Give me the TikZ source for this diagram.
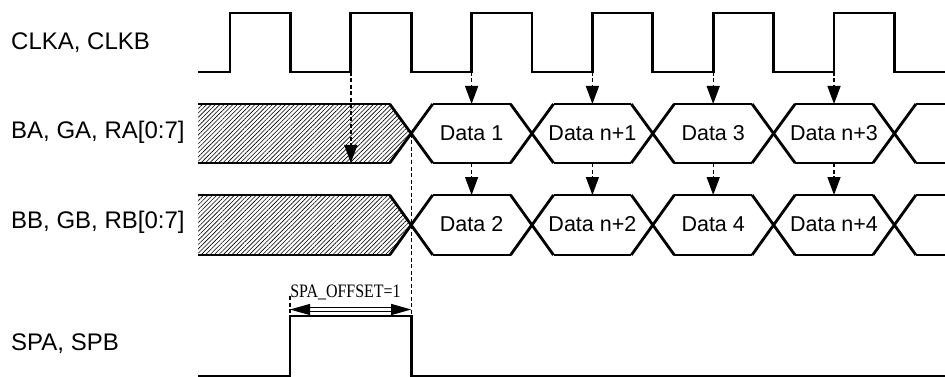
\documentclass[tikz,border=0pt]{standalone}
\usepackage{fontspec}
\setmainfont{Liberation Sans}
\newfontfamily\offsetfont{Liberation Serif}
\usetikzlibrary{arrows.meta,patterns.meta,calc}

\tikzset{
  wave/.style={line width=2.8pt},
  sig label/.style={anchor=west, inner sep=0pt, font=\fontsize{24}{28}\selectfont},
  data label/.style={inner sep=0pt, font=\fontsize{21.5}{25}\selectfont},
  latch/.style={dash pattern=on 4pt off 2.5pt, line width=1.4pt, -{Triangle[length=18pt,width=13pt]}},
  guide/.style={dash pattern=on 4pt off 2.5pt, line width=1.4pt},
  hatch/.style={pattern={Lines[angle=45, distance=3.1pt, line width=0.6pt]}},
}

\begin{document}
\begin{tikzpicture}[x=1pt, y=-1pt]
    \useasboundingbox (0,0) rectangle (945,377);

    % signal names
    \node[sig label] (clkname) at (11,43) {CLKA, CLKB};
    \node[sig label] (busaname) at (11,132) {BA, GA, RA[0:7]};
    \node[sig label] (busbname) at (11,222) {BB, GB, RB[0:7]};
    \node[sig label] (spname) at (11,344) {SPA, SPB};

    % clock
    \draw[wave] (198,72) \foreach \k in {0,...,5} {
        -- ({230+\k*120.8},72) -- ({230+\k*120.8},13)
        -- ({290.4+\k*120.8},13) -- ({290.4+\k*120.8},72) } -- (945,72);

    % data buses
    \foreach \tp/\bt in {104/163, 195/255} {
      \fill[hatch] (198,\tp) -- (390,\tp) -- (411.2,{(\tp+\bt)/2}) -- (390,\bt) -- (198,\bt) -- cycle;
      \draw[wave] (198,\tp) -- (390,\tp) (198,\bt) -- (390,\bt);
      \foreach \xc in {411.2, 532, 652.8, 773.6, 894.4} {
        \draw[wave] ({\xc-21.5},\tp) -- ({\xc+21.5},\bt) ({\xc-21.5},\bt) -- ({\xc+21.5},\tp);
      }
      \foreach \xc in {411.2, 532, 652.8, 773.6} {
        \draw[wave] ({\xc+21.5},\tp) -- ({\xc+99.3},\tp) ({\xc+21.5},\bt) -- ({\xc+99.3},\bt);
      }
      \draw[wave] (915.9,\tp) -- (945,\tp) (915.9,\bt) -- (945,\bt);
    }

    \foreach \i/\la/\lb in {1/Data 1/Data 2, 2/Data n+1/Data n+2, 3/Data 3/Data 4, 4/Data n+3/Data n+4} {
      \pgfmathsetmacro{\xm}{471.6+(\i-1)*120.8}
      \node[data label] (a\i) at (\xm,133) {\la};
      \node[data label] (b\i) at (\xm,224) {\lb};
      \coordinate (ck\i) at (\xm,72);
      \coordinate (at\i) at (\xm,104);
      \coordinate (ab\i) at (\xm,163);
      \coordinate (bt\i) at (\xm,195);
      \draw[latch] (ck\i) -- (at\i);
      \draw[latch] (ab\i) -- (bt\i);
    }
    \coordinate (ck0) at (350.8,72);
    \coordinate (ab0) at (350.8,163);
    \draw[latch] (ck0) -- (ab0);

    % start pulse
    \draw[wave] (198,376) -- (290,376) -- (290,316) -- (411.2,316) -- (411.2,376) -- (945,376);
    \coordinate (xa) at (411.2,134);
    \coordinate (sp1) at (290,316);
    \coordinate (sp2) at (411.2,316);
    \draw[guide] (xa) -- (sp2);
    \draw[guide] (290,296) -- (sp1);
    \coordinate (off1) at (290,309.5);
    \coordinate (off2) at (411.2,309.5);
    \draw[{Triangle[length=20pt,width=11pt]}-{Triangle[length=20pt,width=11pt]}, double, double distance=3.5pt, line width=1.2pt] (off1) -- (off2);
    \node[inner sep=0pt, xscale=0.84, font=\offsetfont\fontsize{19}{22}\selectfont] (offset) at (345.5,292) {SPA\_OFFSET=1};
  \end{tikzpicture}
\end{document}
